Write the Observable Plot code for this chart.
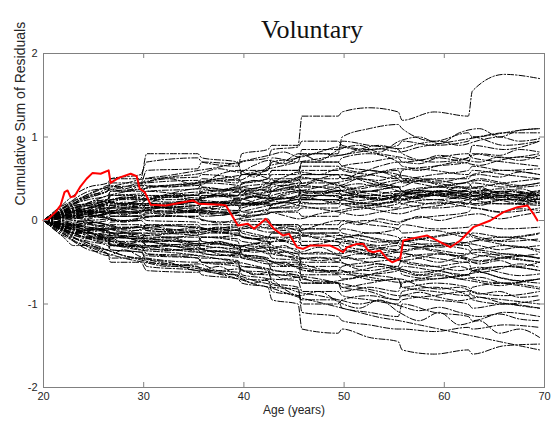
<!DOCTYPE html>
<html>
<head>
<meta charset="utf-8">
<script src="https://cdn.jsdelivr.net/npm/d3@7"></script>
<script src="https://cdn.jsdelivr.net/npm/@observablehq/plot@0.6"></script>
<style>
  html, body { margin: 0; padding: 0; background: #fff; }
  #chart svg { display: block; }
</style>
</head>
<body>
<div id="chart"></div>
<script>
// Knot ages of the first group of simulated paths (step-like)
const ages = [20, 21, 22, 23, 24.5, 26.4, 26.7, 29.7, 30.3, 35.4, 35.8, 39.4, 39.8, 42.4, 42.8, 45.4, 45.8, 49.4, 49.8, 52.5, 55.4, 55.8, 59, 62.4, 62.8, 66, 69.5];

// First group of simulated cumulative-residual paths (black, dash-dot)
const paths = [
  [0,.05,.15,.25,.35, .4,.5,.55,.7, .75,.7,.65,.8, .85,.9,.9,1.25, 1.25,1.3,1.35,1.3, 1.2,1.3,1.25,1.55,1.75,1.7],
  [0,.08,.2,.3,.4, .45,.5,.5,.8, .8,.75,.7,.55, .6,.7,.75,.8, .8,1.0,1.1,1.15, 1.1,.95,1.05,1.0,1.05,1.05],
  [0,-.05,-.15,-.25,-.35, -.4,-.45,-.45,-.55, -.6,-.65,-.7,-.75, -.8,-.95,-1.0,-1.3, -1.35,-1.3,-1.4,-1.45, -1.55,-1.6,-1.55,-1.6,-1.5,-1.48],
  [0,-.1,-.2,-.3,-.3, -.35,-.3,-.35,-.5, -.55,-.6,-.65,-.55, -.6,-.75,-.8,-1.1, -1.15,-1.2,-1.25,-1.3, -1.3,-1.33,-1.28,-1.3,-1.25,-1.28],
  [0,.03,.1,.18,.2, .25,.35,.35,.4, .45,.5,.45,.6, .6,.75,.7,.85, .85,.95,.9,.85, .8,.7,.75,.9,.85,.95],
  [0,-.03,-.08,-.1,-.2, -.25,-.3,-.3,-.4, -.45,-.5,-.5,-.65, -.7,-.85,-.9,-.95, -.95,-1.05,-1.1,-1.15, -1.0,-1.1,-1.15,-1.2,-1.1,-1.15],
  [0,.05,.1,.1,.15, .2,.3,.3,.35, .3,.4,.35,.45, .5,.6,.6,.65, .65,.6,.55,.5, .6,.65,.7,.8,.75,.8],
  [0,-.05,-.1,-.15,-.15, -.2,-.15,-.15,-.25, -.3,-.2,-.25,-.4, -.45,-.5,-.5,-.7, -.75,-.8,-.85,-.95, -.9,-.95,-1.0,-1.05,-1.0,-1.05],
  [0,.02,.05,.1,.1, .15,.1,.12,.2, .22,.3,.3,.35, .3,.4,.45,.55, .55,.5,.6,.5, .45,.5,.5,.55,.6,.55],
  [0,-.02,-.05,-.1,-.12, -.1,-.15,-.15,-.2, -.2,-.25,-.3,-.3, -.25,-.35,-.4,-.55, -.55,-.6,-.65,-.7, -.8,-.75,-.8,-.85,-.9,-.85],
  [0,.04,.08,.05,.1, .12,.2,.2,.25, .3,.28,.3,.35, .4,.35,.4,.5, .5,.55,.45,.4, .35,.4,.45,.4,.45,.5],
  [0,-.04,-.08,-.05,-.1, -.15,-.2,-.22,-.3, -.32,-.35,-.4,-.45, -.45,-.55,-.55,-.45, -.45,-.5,-.6,-.55, -.65,-.7,-.65,-.7,-.75,-.7],
  [0,.01,.03,.06,.05, .08,.12,.1,.15, .18,.22,.2,.25, .3,.25,.3,.4, .4,.35,.3,.35, .3,.25,.3,.35,.3,.3],
  [0,-.01,-.04,-.06,-.08, -.1,-.05,-.05,-.1, -.12,-.15,-.15,-.2, -.25,-.3,-.35,-.4, -.4,-.35,-.4,-.45, -.5,-.55,-.5,-.6,-.55,-.6],
  [0,.06,.12,.15,.2, .25,.2,.2,.15, .18,.2,.22,.2, .25,.3,.35,.25, .25,.3,.28,.25, .3,.35,.32,.3,.35,.28],
  [0,-.06,-.1,-.08,-.05, -.08,-.1,-.12,-.05, -.05,-.1,-.08,-.15, -.2,-.15,-.15,-.25, -.25,-.3,-.35,-.3, -.35,-.3,-.35,-.4,-.45,-.5],
  [0,.02,.04,.08,.12, .1,.15,.15,.1, .1,.05,.1,.15, .2,.2,.25,.2, .2,.25,.3,.3, .25,.2,.25,.3,.25,.25],
  [0,-.02,0,.02,.05, .03,0,0,-.05, -.08,-.1,-.12,-.05, -.05,-.1,-.1,-.15, -.15,-.2,-.15,-.2, -.25,-.2,-.15,-.2,-.25,-.22],
  [0,.03,.06,.04,.08, .1,.05,.05,.08, .1,.15,.12,.2, .22,.15,.15,.25, .25,.2,.22,.28, .25,.3,.35,.3,.25,.3],
  [0,-.03,-.06,-.1,-.15, -.18,-.25,-.25,-.3, -.28,-.35,-.38,-.3, -.32,-.25,-.25,-.3, -.3,-.25,-.3,-.35, -.3,-.28,-.3,-.35,-.3,-.35],
  [0,.05,.15,.2,.25, .3,.35,.38,.45, .48,.4,.35,.3, .28,.35,.4,.3, .3,.25,.2,.15, .2,.25,.2,.25,.3,.2],
  [0,-.05,-.12,-.18,-.2, -.25,-.35,-.38,-.45, -.5,-.45,-.48,-.55, -.58,-.65,-.65,-.75, -.75,-.85,-.8,-.85, -.75,-.7,-.65,-.6,-.55,-.6],
  [0,.02,-.02,-.05,-.03, 0,.05,.06,.1, .12,.08,.1,.05, .08,.1,.1,.05, .05,.1,.15,.2, .25,.3,.28,.2,.25,.22],
  [0,-.02,.02,.05,.08, .12,.15,.15,.2, .18,.1,.08,0, -.02,-.05,-.05,-.1, -.1,-.05,0,-.05, 0,.05,.1,.15,.1,.15],
  [0,.04,.1,.15,.18, .2,.25,.28,.35, .38,.45,.5,.55, .55,.6,.6,.7, .7,.75,.8,.7, .65,.6,.55,.6,.55,.5],
  [0,-.04,-.1,-.15,-.22, -.25,-.2,-.22,-.15, -.18,-.25,-.3,-.35, -.3,-.4,-.45,-.5, -.5,-.45,-.5,-.55, -.45,-.4,-.45,-.5,-.45,-.4],
  [0,.01,.05,.1,.12, .15,.1,.08,.05, .05,0,-.02,.05, .08,.1,.12,.15, .15,.2,.18,.22, .2,.15,.2,.25,.28,.25],
  [0,-.01,-.02,0,-.02, -.05,-.08,-.08,-.12, -.15,-.1,-.12,-.2, -.22,-.15,-.15,-.05, -.05,0,-.05,-.1, -.15,-.12,-.2,-.15,-.2,-.15],
  [0,.06,.1,.12,.1, .05,.08,.1,.15, .15,.2,.25,.3, .35,.45,.48,.55, .55,.5,.55,.6, .5,.45,.4,.45,.4,.45],
  [0,-.06,-.12,-.15,-.1, -.12,-.18,-.2,-.25, -.25,-.3,-.35,-.45, -.5,-.6,-.62,-.65, -.65,-.7,-.65,-.6, -.55,-.6,-.65,-.6,-.7,-.75],
  [0,.03,.02,.06,.1, .15,.18,.2,.25, .25,.3,.28,.2, .22,.25,.28,.35, .35,.3,.35,.4, .35,.3,.35,.3,.35,.3],
  [0,-.03,-.05,-.02,0, .02,.05,.05,0, -.02,-.05,-.05,0, .02,-.05,-.08,-.15, -.15,-.1,-.15,-.1, -.05,-.1,-.08,-.05,-.1,-.08],
  [0,.02,.06,.1,.15, .2,.25,.25,.3, .3,.35,.38,.4, .45,.5,.5,.45, .45,.4,.35,.4, .35,.3,.25,.2,.2,.18],
  [0,-.02,-.06,-.1,-.15, -.2,-.28,-.3,-.35, -.35,-.4,-.42,-.35, -.38,-.45,-.48,-.6, -.6,-.55,-.5,-.45, -.4,-.45,-.5,-.45,-.4,-.45],
  [0,.04,.08,.04,0, -.05,-.02,0,.05, .05,.1,.12,.18, .2,.15,.18,.25, .25,.3,.35,.32, .35,.4,.38,.35,.3,.35],
  [0,-.04,-.08,-.12,-.18, -.22,-.3,-.32,-.4, -.42,-.5,-.55,-.6, -.62,-.7,-.72,-.85, -.85,-.9,-.95,-1.0, -.95,-.9,-.85,-.9,-.95,-1.0],
  [0,.05,.08,.12,.18, .25,.3,.32,.4, .42,.45,.42,.35, .38,.45,.5,.6, .6,.65,.7,.75, .7,.75,.8,.75,.7,.65],
  [0,-.05,-.08,-.04,-.08, -.12,-.18,-.2,-.22, -.25,-.2,-.22,-.25, -.28,-.2,-.2,-.3, -.3,-.35,-.4,-.35, -.3,-.35,-.4,-.35,-.4,-.45],
  [0,.02,.04,.02,.05, .08,.1,.1,.12, .1,.15,.18,.1, .12,.2,.22,.3, .3,.25,.2,.25, .3,.35,.3,.25,.2,.2],
  [0,-.02,-.04,-.08,-.1, -.12,-.1,-.08,-.12, -.15,-.2,-.18,-.1, -.08,-.05,-.05,-.1, -.1,-.15,-.2,-.25, -.2,-.25,-.3,-.25,-.2,-.25],
  [0,.05,.12,.2,.3, .35,.45,.45,.6, .62,.7,.68,.7, .75,.85,.88,.95, .95,.9,.85,.9, .95,.9,.95,1.0,.9,.95],
  [0,-.05,-.12,-.2,-.3, -.4,-.5,-.5,-.6, -.62,-.6,-.62,-.7, -.72,-.8,-.82,-1.0, -1.0,-.95,-.9,-.95, -.85,-.8,-.9,-.95,-1.0,-.95],
  [0,.03,.1,.2,.28, .35,.4,.42,.5, .52,.55,.5,.45, .5,.55,.55,.7, .7,.65,.6,.55, .5,.55,.6,.65,.6,.62],
  [0,-.03,-.1,-.2,-.25, -.3,-.35,-.38,-.42, -.45,-.5,-.52,-.6, -.65,-.65,-.68,-.75, -.75,-.8,-.75,-.7, -.8,-.85,-.9,-.8,-.75,-.8]
];

// Knot ages of the second group of simulated paths (wiggly)
const ages2 = [20, 20.6, 21.4, 22.3, 23.2, 24.2, 25.3, 26.5, 28, 30, 32.5, 35.5, 37.5, 39.5, 41, 42.5, 44, 45.5, 47.5, 49.5, 51.5, 53.5, 55.5, 57.5, 59.5, 61.5, 63.5, 65.5, 67.5, 69.5];

// Second group of simulated paths
const paths2 = [
  [0,.04,.1,.18,.22, .3,.35,.42,.38,.45, .5,.42,.55,.6,.52, .65,.7,.8,.72,.85, .9,.82,.95,1.0,.92, 1.05,1.1,1.0,1.08,1.1],
  [0,-.04,-.12,-.18,-.25, -.3,-.38,-.42,-.35,-.45, -.5,-.6,-.55,-.68,-.75, -.7,-.82,-.9,-.85,-.98, -1.05,-.95,-1.1,-1.2,-1.1, -1.25,-1.2,-1.35,-1.3,-1.4],
  [0,.05,.02,.08,.12, .1,.18,.15,.22,.2, .28,.25,.32,.3,.38, .35,.42,.4,.48,.42, .5,.45,.4,.48,.42, .35,.4,.32,.38,.3],
  [0,-.05,-.02,-.08,-.05, -.12,-.1,-.18,-.15,-.22, -.2,-.28,-.25,-.32,-.28, -.35,-.3,-.38,-.32,-.4, -.35,-.42,-.38,-.45,-.5, -.45,-.52,-.48,-.55,-.5],
  [0,.02,.08,.05,.12, .18,.15,.22,.28,.25, .32,.38,.35,.42,.48, .45,.52,.58,.55,.62, .58,.65,.7,.68,.75, .72,.8,.78,.85,.82],
  [0,-.02,-.06,-.12,-.1, -.15,-.22,-.2,-.28,-.32, -.3,-.38,-.42,-.4,-.48, -.52,-.5,-.58,-.62,-.6, -.68,-.72,-.7,-.78,-.82, -.8,-.88,-.85,-.92,-.9],
  [0,.03,.06,.1,.08, .05,.1,.08,.12,.18, .15,.1,.15,.2,.18, .22,.28,.25,.3,.35, .3,.25,.3,.28,.35, .32,.28,.35,.3,.34],
  [0,-.03,-.06,-.04,-.08, -.05,-.02,-.06,-.1,-.08, -.12,-.08,-.15,-.1,-.05, -.1,-.08,-.12,-.05,0, -.05,.02,-.02,.05,0, .05,.08,.02,.06,.1],
  [0,.06,.14,.2,.25, .28,.32,.38,.35,.42, .4,.45,.5,.48,.55, .5,.45,.52,.48,.42, .38,.42,.35,.3,.36, .3,.25,.3,.22,.28],
  [0,-.06,-.14,-.2,-.26, -.3,-.35,-.4,-.45,-.5, -.55,-.52,-.6,-.58,-.65, -.62,-.7,-.68,-.75,-.72, -.68,-.62,-.58,-.65,-.6, -.55,-.62,-.58,-.52,-.56],
  [0,.01,.04,.09,.14, .12,.17,.22,.2,.26, .3,.27,.33,.38,.35, .42,.46,.44,.5,.55, .52,.58,.62,.6,.66, .7,.66,.72,.76,.74],
  [0,-.01,-.04,-.09,-.14, -.12,-.18,-.22,-.2,-.26, -.24,-.3,-.28,-.34,-.38, -.36,-.42,-.46,-.44,-.5, -.55,-.52,-.58,-.62,-.6, -.66,-.62,-.68,-.72,-.7],
  [0,.04,.02,.06,.03, .08,.05,.1,.14,.12, .18,.22,.2,.26,.22, .18,.22,.28,.25,.2, .16,.2,.24,.28,.32, .3,.36,.33,.28,.32],
  [0,-.04,-.02,-.06,-.03, 0,.04,.02,-.02,.03, .06,.02,-.03,.02,.05, .1,.06,.02,.08,.12, .16,.12,.08,.14,.18, .22,.18,.24,.2,.26],
  [0,.05,.1,.16,.2, .26,.3,.36,.4,.46, .52,.56,.62,.58,.66, .72,.68,.76,.8,.78, .85,.9,.86,.92,.95, .9,.96,1.0,.95,.98],
  [0,-.05,-.1,-.16,-.22, -.26,-.3,-.36,-.42,-.46, -.52,-.56,-.62,-.66,-.72, -.76,-.8,-.86,-.9,-.95, -1.0,-.96,-1.02,-1.08,-1.04, -1.1,-1.15,-1.12,-1.18,-1.2],
  [0,.02,.05,.03,.07, .11,.09,.14,.18,.15, .2,.24,.22,.18,.24, .28,.26,.3,.34,.32, .28,.24,.3,.36,.34, .4,.38,.34,.3,.26],
  [0,-.02,-.05,-.03,-.07, -.11,-.09,-.14,-.18,-.15, -.2,-.17,-.13,-.18,-.22, -.2,-.25,-.3,-.28,-.22, -.18,-.24,-.28,-.32,-.3, -.26,-.3,-.35,-.32,-.38],
  [0,.03,.09,.12,.16, .14,.2,.24,.28,.26, .22,.26,.3,.34,.3, .26,.32,.36,.34,.4, .44,.4,.46,.5,.48, .44,.5,.46,.42,.45],
  [0,-.03,-.09,-.12,-.16, -.2,-.18,-.24,-.28,-.32, -.36,-.34,-.4,-.44,-.42, -.48,-.54,-.52,-.58,-.62, -.6,-.55,-.6,-.66,-.64, -.7,-.68,-.74,-.78,-.82],
  [0,.02,.04,.08,.05, .02,.06,.03,0,.04, .08,.12,.1,.06,.1, .14,.18,.22,.2,.24, .28,.26,.3,.34,.3, .26,.3,.28,.24,.22],
  [0,-.02,-.04,-.08,-.12, -.15,-.13,-.1,-.14,-.18, -.16,-.12,-.08,-.12,-.16, -.2,-.24,-.2,-.16,-.22, -.26,-.3,-.26,-.22,-.18, -.14,-.2,-.24,-.2,-.16],
  [0,.06,.12,.18,.24, .3,.36,.4,.44,.5, .54,.6,.64,.7,.74, .78,.82,.76,.82,.88, .84,.8,.76,.72,.78, .74,.7,.76,.72,.78],
  [0,-.06,-.12,-.18,-.22, -.26,-.32,-.36,-.42,-.48, -.54,-.58,-.64,-.7,-.76, -.8,-.86,-.92,-.98,-1.04, -1.1,-1.16,-1.2,-1.25,-1.3, -1.35,-1.4,-1.45,-1.5,-1.55],
  [0,.01,-.02,.02,.05, .08,.06,.1,.07,.12, .16,.13,.18,.22,.19, .24,.22,.26,.3,.28, .24,.28,.32,.36,.33, .3,.34,.38,.35,.3],
  [0,-.01,.02,-.02,-.05, -.03,-.07,-.05,-.1,-.06, -.1,-.14,-.1,-.06,-.1, -.14,-.12,-.16,-.2,-.18, -.22,-.26,-.24,-.28,-.32, -.28,-.24,-.28,-.32,-.3],
  [0,.04,.1,.14,.18, .2,.24,.22,.26,.3, .28,.32,.36,.4,.38, .44,.4,.36,.4,.46, .5,.48,.54,.5,.46, .5,.55,.52,.58,.55],
  [0,-.04,-.1,-.14,-.18, -.22,-.2,-.24,-.28,-.25, -.3,-.34,-.32,-.38,-.35, -.4,-.38,-.44,-.48,-.45, -.4,-.44,-.48,-.52,-.56, -.6,-.56,-.62,-.66,-.64],
  [0,.03,.06,.04,.08, .1,.14,.18,.16,.2, .18,.22,.2,.24,.28, .26,.3,.34,.32,.36, .34,.3,.26,.3,.34, .36,.32,.28,.32,.36],
  [0,-.03,-.06,-.1,-.08, -.12,-.16,-.14,-.2,-.24, -.22,-.28,-.26,-.3,-.34, -.32,-.36,-.4,-.38,-.42, -.46,-.44,-.48,-.45,-.4, -.44,-.48,-.45,-.42,-.46],
  [0,.05,.08,.12,.16, .2,.25,.3,.34,.38, .42,.46,.5,.54,.58, .62,.66,.7,.74,.78, .82,.86,.82,.88,.92, .96,1.0,1.04,1.08,1.1],
  [0,-.05,-.08,-.12,-.16, -.2,-.25,-.28,-.32,-.36, -.38,-.42,-.46,-.5,-.54, -.58,-.62,-.66,-.7,-.75, -.8,-.85,-.9,-.86,-.92, -.96,-.92,-.98,-1.02,-1.05],
  [0,.02,.06,.1,.14, .1,.06,.1,.14,.18, .14,.1,.06,.1,.14, .18,.22,.18,.14,.1, .06,.1,.14,.18,.22, .18,.14,.1,.14,.12],
  [0,-.02,-.06,-.1,-.06, -.02,-.06,-.1,-.14,-.1, -.06,-.1,-.14,-.18,-.22, -.26,-.22,-.18,-.22,-.26, -.3,-.34,-.38,-.34,-.38, -.42,-.38,-.42,-.46,-.5],
  [0,.04,.08,.12,.1, .14,.18,.22,.2,.24, .3,.34,.3,.26,.3, .34,.38,.42,.4,.36, .4,.44,.48,.44,.4, .44,.48,.44,.4,.42],
  [0,-.04,-.08,-.12,-.16, -.14,-.18,-.22,-.26,-.3, -.34,-.38,-.36,-.4,-.44, -.48,-.52,-.56,-.6,-.64, -.66,-.7,-.74,-.7,-.66, -.7,-.74,-.78,-.74,-.7]
];

// Observed cumulative sum of residuals (red)
const redAges = [20,20.5,21.2,21.7,22.1,22.4,22.7,23.1,23.7,24.3,24.9,25.7,26.5,26.7,27.5,28.7,29.3,29.6,30.1,30.7,32.2,34.9,35.5,37.7,38.2,39.4,40.4,41,42.2,43,43.9,44.5,45.3,45.9,46.6,48.6,49.3,49.9,50.3,51.3,51.9,52.4,52.9,53.6,54.3,54.8,55.6,55.9,56.6,58.3,59.3,60.6,61.6,62.9,64.6,65.9,67.3,68.3,68.9,69.3];
const redValues = [0,.02,.1,.18,.34,.36,.28,.29,.41,.5,.57,.56,.6,.45,.51,.56,.53,.38,.34,.19,.18,.24,.2,.19,.18,-.06,-.04,-.1,.02,-.1,-.18,-.16,-.32,-.34,-.3,-.3,-.34,-.38,-.32,-.28,-.28,-.36,-.38,-.36,-.46,-.5,-.46,-.24,-.22,-.18,-.24,-.32,-.24,-.08,0,.1,.16,.18,.08,0];

const xTicks = [20, 30, 40, 50, 60, 70];
const yTicks = [-2, -1, 0, 1, 2];
const titleText = "Voluntary";
const xLabel = "Age (years)";
const yLabel = "Cumulative Sum of Residuals";

const pathRows = [
  ...paths.flatMap((p, i) => p.map((v, j) => ({age: ages[j], value: v, id: "a" + i}))),
  ...paths2.flatMap((p, i) => p.map((v, j) => ({age: ages2[j], value: v, id: "b" + i})))
];
const redRows = redAges.map((a, i) => ({age: a, value: redValues[i]}));

const axisGrey = "#808080";

const chart = Plot.plot({
  width: 555,
  height: 423,
  marginLeft: 43,
  marginRight: 11,
  marginTop: 53,
  marginBottom: 36,
  style: {fontFamily: "'Liberation Sans', Arial, sans-serif", fontSize: "11px", color: "#262626", background: "#fff"},
  x: {domain: [20, 70]},
  y: {domain: [-2, 2]},
  marks: [
    Plot.line(pathRows, {x: "age", y: "value", z: "id", stroke: "black", strokeWidth: 1, strokeDasharray: "6,2,1.5,2", curve: "monotone-x"}),
    Plot.line(redRows, {x: "age", y: "value", stroke: "#ff0000", strokeWidth: 2}),
    Plot.frame({stroke: axisGrey}),
    Plot.ruleX(xTicks, {y1: -2, y2: -1.94, stroke: axisGrey}),
    Plot.ruleX(xTicks, {y1: 2, y2: 1.94, stroke: axisGrey}),
    Plot.ruleY(yTicks, {x1: 20, x2: 20.5, stroke: axisGrey}),
    Plot.ruleY(yTicks, {x1: 70, x2: 69.5, stroke: axisGrey}),
    Plot.axisX({ticks: xTicks, tickSize: 0, tickPadding: 5, label: null, tickFormat: d => String(d)}),
    Plot.axisY({ticks: yTicks, tickSize: 0, tickPadding: 6, label: null, tickFormat: d => String(d)}),
    Plot.text([xLabel], {frameAnchor: "bottom", dy: 26, fontSize: 12, text: d => d}),
    Plot.text([yLabel], {frameAnchor: "left", dx: -23, dy: -15, rotate: -90, fontSize: 14, text: d => d}),
    Plot.text([titleText], {frameAnchor: "top", dx: 18, dy: -34, fontSize: 26, fontFamily: "'Liberation Serif', 'DejaVu Serif', serif", fill: "#111", text: d => d})
  ]
});
document.getElementById("chart").appendChild(chart);
</script>
</body>
</html>
